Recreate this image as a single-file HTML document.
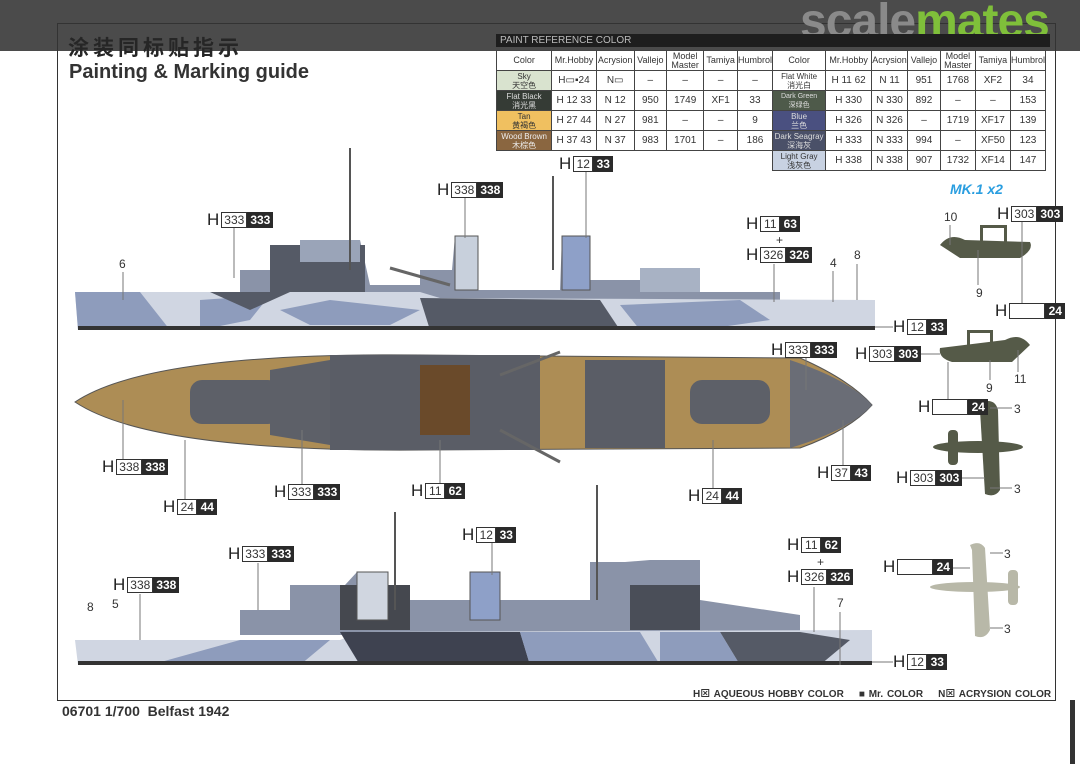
<!DOCTYPE html>
<html><head><meta charset="utf-8"><style>
body{margin:0;width:1080px;height:764px;background:#fff;position:relative;overflow:hidden;font-family:"Liberation Sans","Noto Sans CJK SC",sans-serif;}
.a{position:absolute;}
.lab{position:absolute;display:flex;align-items:center;font-size:12px;font-family:"Liberation Sans",sans-serif;}
.lab .h{font-size:17px;color:#222;margin-right:2px;line-height:16px}
.lab .w{border:1px solid #333;background:#fff;color:#333;padding:0 2px;height:14px;line-height:14px;min-width:14px;text-align:center}
.lab .b{background:#2a2a2a;color:#fff;padding:0 3px;height:16px;line-height:16px;font-weight:bold;min-width:14px;text-align:center}
.num{position:absolute;font-size:12px;color:#333}
table{border-collapse:collapse;font-size:9px;color:#333}
td{border:1px solid #444;text-align:center;height:19px;padding:0;line-height:9px}
.tn td{font-size:10px}
</style></head><body>
<div class="a" style="left:0;top:0;width:1080px;height:51px;background:#4b4b4b"></div>
<div class="a" style="left:57px;top:23px;width:997px;height:676px;border:1px solid #333"></div>
<div class="a" style="left:68px;top:32px;font-size:21px;color:#262626;letter-spacing:4px;font-weight:bold">涂装同标贴指示</div>
<div class="a" style="left:69px;top:61px;font-size:20px;color:#333;font-weight:bold">Painting &amp; Marking guide</div>
<div class="a" style="left:800px;top:-6px;font-size:48px;font-weight:bold;letter-spacing:-1px"><span style="color:#8a8a8a">scale</span><span style="color:#7fbf3a">mates</span></div>
<div class="a" style="left:496px;top:34px;width:550px;height:13px;background:#1e1e1e;color:#bbb;font-size:10px;line-height:13px;padding-left:4px">PAINT REFERENCE COLOR</div>
<table class="a" style="left:496px;top:50px;width:277px">
<tr><td style="width:57px">Color</td><td style="width:44px">Mr.Hobby</td><td style="width:37px">Acrysion</td><td style="width:32px">Vallejo</td><td style="width:37px">Model<br>Master</td><td style="width:33px">Tamiya</td><td>Humbrol</td></tr>
<tr class="tn"><td style="background:#d9e3cf;font-size:8px">Sky<br>天空色</td><td>H▭▪24</td><td>N▭</td><td>–</td><td>–</td><td>–</td><td>–</td></tr>
<tr class="tn"><td style="background:#353b35;color:#ddd;font-size:8px">Flat Black<br>消光黑</td><td>H 12 33</td><td>N 12</td><td>950</td><td>1749</td><td>XF1</td><td>33</td></tr>
<tr class="tn"><td style="background:#f0c060;font-size:8px">Tan<br>黄褐色</td><td>H 27 44</td><td>N 27</td><td>981</td><td>–</td><td>–</td><td>9</td></tr>
<tr class="tn"><td style="background:#8a6640;color:#eee;font-size:8px">Wood Brown<br>木棕色</td><td>H 37 43</td><td>N 37</td><td>983</td><td>1701</td><td>–</td><td>186</td></tr>
</table>
<table class="a" style="left:772px;top:50px;width:274px">
<tr><td style="width:56px">Color</td><td style="width:46px">Mr.Hobby</td><td style="width:35px">Acrysion</td><td style="width:33px">Vallejo</td><td style="width:35px">Model<br>Master</td><td style="width:35px">Tamiya</td><td>Humbrol</td></tr>
<tr class="tn"><td style="font-size:8px">Flat White<br>消光白</td><td>H 11 62</td><td>N 11</td><td>951</td><td>1768</td><td>XF2</td><td>34</td></tr>
<tr class="tn"><td style="background:#4e5a4a;color:#ddd;font-size:7px">Dark Green<br>深绿色</td><td>H 330</td><td>N 330</td><td>892</td><td>–</td><td>–</td><td>153</td></tr>
<tr class="tn"><td style="background:#4a5080;color:#ddd;font-size:8px">Blue<br>兰色</td><td>H 326</td><td>N 326</td><td>–</td><td>1719</td><td>XF17</td><td>139</td></tr>
<tr class="tn"><td style="background:#4a5068;color:#ddd;font-size:8px">Dark Seagray<br>深海灰</td><td>H 333</td><td>N 333</td><td>994</td><td>–</td><td>XF50</td><td>123</td></tr>
<tr class="tn"><td style="background:#c8d2e2;font-size:8px">Light Gray<br>浅灰色</td><td>H 338</td><td>N 338</td><td>907</td><td>1732</td><td>XF14</td><td>147</td></tr>
</table>

<svg class="a" style="left:0;top:0" width="1080" height="764">
<g>
<polygon points="240,300 240,270 300,270 300,240 360,240 370,285 420,285 420,270 452,270 455,236 478,236 478,290 560,290 562,236 590,236 590,280 640,280 640,268 700,268 700,292 780,292 780,300" fill="#8a93a8"/>
<rect x="270" y="245" width="95" height="50" fill="#555a66"/>
<rect x="300" y="240" width="60" height="22" fill="#9aa4b8"/>
<rect x="455" y="236" width="23" height="54" fill="#c8d0dc" stroke="#555"/>
<rect x="562" y="236" width="28" height="54" fill="#8ea0c8" stroke="#555"/>
<rect x="640" y="268" width="60" height="24" fill="#a8b2c4"/>
<line x1="350" y1="148" x2="350" y2="270" stroke="#555" stroke-width="2"/>
<line x1="553" y1="176" x2="553" y2="270" stroke="#555" stroke-width="2"/>
<line x1="390" y1="268" x2="450" y2="285" stroke="#666" stroke-width="3"/>
<polygon points="75,292 420,292 440,298 875,300 875,328 78,330" fill="#d0d6e2"/>
<polygon points="75,292 140,292 170,330 78,330" fill="#8e9cbc"/>
<polygon points="200,300 270,295 250,320 200,330" fill="#8e9cbc"/>
<polygon points="210,292 290,292 250,310" fill="#555a66"/>
<polygon points="280,310 330,300 420,310 390,325 310,325" fill="#8e9cbc"/>
<polygon points="420,298 600,300 620,330 430,330" fill="#555a66"/>
<polygon points="620,305 740,300 770,320 700,330 640,330" fill="#8e9cbc"/>
<rect x="78" y="326" width="797" height="4" fill="#333"/>
</g>
<g>
<path d="M75,402 Q150,352 420,355 L800,358 Q850,380 872,405 Q850,430 800,448 L420,450 Q150,452 75,402 Z" fill="#ad8d55" stroke="#555"/>
<rect x="190" y="380" width="90" height="44" rx="12" fill="#5d6068"/>
<path d="M270,370 L330,360 L330,445 L270,435 Z" fill="#5d6068"/>
<rect x="330" y="355" width="210" height="95" fill="#5a5d66"/>
<rect x="420" y="365" width="50" height="70" fill="#6a4a2a"/>
<rect x="585" y="360" width="80" height="88" fill="#5a5d66"/>
<rect x="690" y="380" width="80" height="44" rx="12" fill="#5d6068"/>
<path d="M790,360 Q850,380 872,405 Q850,430 790,448 Z" fill="#6a6d76"/>
<line x1="500" y1="375" x2="560" y2="352" stroke="#666" stroke-width="3"/>
<line x1="500" y1="430" x2="560" y2="462" stroke="#666" stroke-width="3"/>
</g>
<g>
<polygon points="240,635 240,610 290,610 290,585 345,585 357,572 388,572 388,600 470,600 470,572 500,572 500,600 590,600 590,562 625,562 650,560 700,560 700,600 800,615 800,635" fill="#8a93a8"/>
<rect x="340" y="585" width="70" height="45" fill="#45484f"/>
<rect x="357" y="572" width="31" height="48" fill="#d0d6e0" stroke="#555"/>
<rect x="470" y="572" width="30" height="48" fill="#8ea0c8" stroke="#555"/>
<rect x="630" y="585" width="70" height="45" fill="#4a4e58"/>
<line x1="395" y1="512" x2="395" y2="610" stroke="#555" stroke-width="2"/>
<line x1="597" y1="485" x2="597" y2="600" stroke="#555" stroke-width="2"/>
<polygon points="75,640 340,640 360,632 872,630 872,665 78,665" fill="#d0d6e2"/>
<polygon points="150,665 240,640 330,640 300,665" fill="#8e9cbc"/>
<polygon points="340,632 520,632 530,665 360,665" fill="#3e4250"/>
<polygon points="520,632 640,632 660,665 530,665" fill="#8e9cbc"/>
<polygon points="720,632 800,632 850,640 820,665 740,665" fill="#555a66"/>
<polygon points="660,632 720,632 740,665 660,665" fill="#8e9cbc"/>
<rect x="78" y="661" width="794" height="4" fill="#333"/>
</g>
<g fill="#555a48">
<path d="M940,245 Q950,232 965,240 L1030,242 Q1034,250 1020,258 L960,258 Z"/>
<rect x="980" y="225" width="3" height="18"/><rect x="1004" y="225" width="3" height="18"/><rect x="980" y="225" width="27" height="3"/>
<path d="M1030,345 Q1020,332 1005,340 L940,348 Q938,358 952,362 L1012,362 Z"/>
<rect x="967" y="330" width="3" height="18"/><rect x="990" y="330" width="3" height="18"/><rect x="967" y="330" width="26" height="3"/>
<path d="M982,402 Q995,398 998,410 L1000,490 Q995,498 985,494 L980,410 Z"/>
<ellipse cx="978" cy="447" rx="45" ry="6"/>
<rect x="948" y="430" width="10" height="35" rx="4"/>
</g>
<g fill="#b8b8a8">
<path d="M970,545 Q980,540 985,548 L990,630 Q985,640 975,636 L972,550 Z"/>
<ellipse cx="975" cy="587" rx="45" ry="5"/>
<rect x="1008" y="570" width="10" height="35" rx="4"/>
</g>
<g stroke="#777" stroke-width="1">
<line x1="234" y1="228" x2="234" y2="278"/><line x1="465" y1="198" x2="465" y2="238"/><line x1="586" y1="172" x2="586" y2="238"/>
<line x1="774" y1="264" x2="774" y2="302"/><line x1="123" y1="272" x2="123" y2="300"/><line x1="833" y1="271" x2="833" y2="302"/><line x1="857" y1="264" x2="857" y2="300"/>
<line x1="875" y1="327" x2="893" y2="327"/>
<line x1="123" y1="400" x2="123" y2="460"/><line x1="302" y1="430" x2="302" y2="486"/><line x1="440" y1="440" x2="440" y2="484"/><line x1="713" y1="440" x2="713" y2="490"/><line x1="185" y1="440" x2="185" y2="500"/>
<line x1="806" y1="358" x2="806" y2="390"/><line x1="843" y1="420" x2="843" y2="467"/>
<line x1="258" y1="563" x2="258" y2="610"/><line x1="492" y1="543" x2="492" y2="575"/><line x1="140" y1="594" x2="140" y2="640"/>
<line x1="814" y1="587" x2="814" y2="632"/><line x1="840" y1="612" x2="840" y2="665"/><line x1="872" y1="662" x2="893" y2="662"/>
<line x1="940" y1="568" x2="970" y2="568"/><line x1="990" y1="553" x2="1003" y2="553"/><line x1="990" y1="628" x2="1003" y2="628"/>
<line x1="1022" y1="222" x2="1022" y2="303"/><line x1="950" y1="225" x2="950" y2="245"/><line x1="978" y1="250" x2="978" y2="285"/>
<line x1="912" y1="354" x2="940" y2="354"/><line x1="948" y1="362" x2="948" y2="400"/><line x1="990" y1="360" x2="990" y2="380"/><line x1="1018" y1="350" x2="1018" y2="372"/>
<line x1="990" y1="408" x2="1012" y2="408"/><line x1="950" y1="478" x2="985" y2="478"/><line x1="990" y1="488" x2="1012" y2="488"/>
</g>
</svg>

<div class="lab" style="left:207px;top:212px"><span class="h">H</span><span class="w">333</span><span class="b">333</span></div>
<div class="lab" style="left:437px;top:182px"><span class="h">H</span><span class="w">338</span><span class="b">338</span></div>
<div class="lab" style="left:559px;top:156px"><span class="h">H</span><span class="w">12</span><span class="b">33</span></div>
<div class="lab" style="left:746px;top:216px"><span class="h">H</span><span class="w">11</span><span class="b">63</span></div>
<div class="num" style="left:776px;top:233px">+</div>
<div class="lab" style="left:746px;top:247px"><span class="h">H</span><span class="w">326</span><span class="b">326</span></div>
<div class="num" style="left:119px;top:257px">6</div><div class="num" style="left:830px;top:256px">4</div><div class="num" style="left:854px;top:248px">8</div>
<div class="lab" style="left:893px;top:319px"><span class="h">H</span><span class="w">12</span><span class="b">33</span></div>
<div class="a" style="left:950px;top:181px;color:#2a9ee0;font-weight:bold;font-style:italic;font-size:14px">MK.1 x2</div>
<div class="num" style="left:944px;top:210px">10</div>
<div class="lab" style="left:997px;top:206px"><span class="h">H</span><span class="w">303</span><span class="b">303</span></div>
<div class="num" style="left:976px;top:286px">9</div>
<div class="lab" style="left:995px;top:303px"><span class="h">H</span><span class="w" style="width:30px"></span><span class="b">24</span></div>
<div class="lab" style="left:771px;top:342px"><span class="h">H</span><span class="w">333</span><span class="b">333</span></div>
<div class="lab" style="left:855px;top:346px"><span class="h">H</span><span class="w">303</span><span class="b">303</span></div>
<div class="num" style="left:986px;top:381px">9</div><div class="num" style="left:1014px;top:372px">11</div>
<div class="lab" style="left:918px;top:399px"><span class="h">H</span><span class="w" style="width:30px"></span><span class="b">24</span></div>
<div class="num" style="left:1014px;top:402px">3</div>
<div class="lab" style="left:102px;top:459px"><span class="h">H</span><span class="w">338</span><span class="b">338</span></div>
<div class="lab" style="left:274px;top:484px"><span class="h">H</span><span class="w">333</span><span class="b">333</span></div>
<div class="lab" style="left:411px;top:483px"><span class="h">H</span><span class="w">11</span><span class="b">62</span></div>
<div class="lab" style="left:688px;top:488px"><span class="h">H</span><span class="w">24</span><span class="b">44</span></div>
<div class="lab" style="left:163px;top:499px"><span class="h">H</span><span class="w">24</span><span class="b">44</span></div>
<div class="lab" style="left:817px;top:465px"><span class="h">H</span><span class="w">37</span><span class="b">43</span></div>
<div class="lab" style="left:896px;top:470px"><span class="h">H</span><span class="w">303</span><span class="b">303</span></div>
<div class="num" style="left:1014px;top:482px">3</div>
<div class="lab" style="left:462px;top:527px"><span class="h">H</span><span class="w">12</span><span class="b">33</span></div>
<div class="lab" style="left:228px;top:546px"><span class="h">H</span><span class="w">333</span><span class="b">333</span></div>
<div class="lab" style="left:113px;top:577px"><span class="h">H</span><span class="w">338</span><span class="b">338</span></div>
<div class="num" style="left:87px;top:600px">8</div><div class="num" style="left:112px;top:597px">5</div>
<div class="lab" style="left:787px;top:537px"><span class="h">H</span><span class="w">11</span><span class="b">62</span></div>
<div class="num" style="left:817px;top:555px">+</div>
<div class="lab" style="left:787px;top:569px"><span class="h">H</span><span class="w">326</span><span class="b">326</span></div>
<div class="num" style="left:837px;top:596px">7</div>
<div class="lab" style="left:883px;top:559px"><span class="h">H</span><span class="w" style="width:30px"></span><span class="b">24</span></div>
<div class="num" style="left:1004px;top:547px">3</div><div class="num" style="left:1004px;top:622px">3</div>
<div class="lab" style="left:893px;top:654px"><span class="h">H</span><span class="w">12</span><span class="b">33</span></div>
<div class="a" style="left:693px;top:685px;font-size:10px;font-weight:bold;color:#333;word-spacing:1px">H⊠ AQUEOUS HOBBY COLOR &nbsp;&nbsp; ■ Mr. COLOR &nbsp;&nbsp; N⊠ ACRYSION COLOR</div>
<div class="a" style="left:62px;top:703px;font-size:14px;font-weight:bold;color:#333">06701 1/700 &nbsp;Belfast 1942</div>
<div class="a" style="left:1070px;top:700px;width:5px;height:64px;background:#333"></div>
</body></html>
